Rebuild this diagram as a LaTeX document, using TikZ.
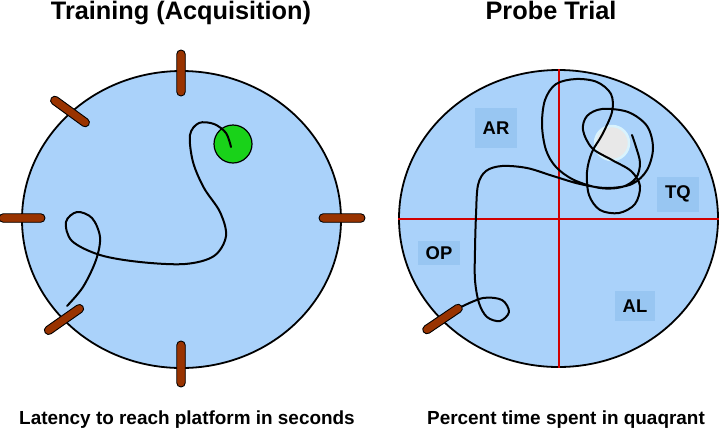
\documentclass[tikz,border=0pt]{standalone}
\usepackage{fontspec}
\setmainfont{Liberation Sans}
\usetikzlibrary{shapes.geometric}

\definecolor{poolblue}{RGB}{170,210,250}
\definecolor{tagblue}{RGB}{152,198,242}
\definecolor{pegbrown}{RGB}{153,51,0}
\definecolor{platgreen}{RGB}{25,210,25}
\definecolor{quadred}{RGB}{210,0,0}
\definecolor{ghostgray}{RGB}{232,232,232}

\begin{document}
\begin{tikzpicture}[x=1bp, y=-1bp,
    pool/.style={draw, ellipse, fill=poolblue, line width=1.8bp, inner sep=0pt, minimum width=319bp, minimum height=297bp},
    startpeg/.style={draw, line width=0.9bp, fill=pegbrown, rounded corners=4.2bp, minimum width=46bp, minimum height=8.5bp, inner sep=0pt},
    tag/.style={fill=tagblue, font=\bfseries\fontsize{18.5}{20}\selectfont, inner sep=0pt, minimum width=42bp},
    swim/.style={line width=2bp, line cap=round, line join=round},
    quad/.style={quadred, line width=2bp},
    title/.style={anchor=base, font=\bfseries\fontsize{25.4}{30}\selectfont},
    caption/.style={anchor=base, font=\bfseries\fontsize{19}{22}\selectfont},
  ]
  \useasboundingbox (0,0) rectangle (720,428);

  \node[title] (trainT) at (181,19.5) {Training (Acquisition)};
  \node[title] (probeT) at (551,19.5) {Probe Trial};

  \node[pool] (poolA) at (181.5,219.5) {};
  \node[pool] (poolB) at (558.5,218.5) {};

  \node[circle, draw, fill=platgreen, line width=1.2bp, minimum size=38bp, inner sep=0pt] (platform) at (233,144) {};
  \node[circle, fill=ghostgray, draw=cyan!15, line width=2.5bp, minimum size=34bp, inner sep=0pt] (ghost) at (612,143) {};

  \node[tag, minimum height=40bp] (AR) at (496,128) {AR};
  \node[tag, minimum height=35bp] (TQ) at (678,194) {TQ};
  \node[tag, minimum height=24bp] (OP) at (439,253) {OP};
  \node[tag, minimum height=30bp, minimum width=40bp] (AL) at (635,306) {AL};

  \draw[quad] (poolB.north) -- (poolB.south);
  \draw[quad] (poolB.west) -- (poolB.east);

  \draw[swim] plot[smooth, tension=0.55] coordinates {(67,306) (83,287) (96,260) (100,237) (92,218) (77,212) (66,222) (72,241) (100,255) (140,262) (185,264) (214,256) (226,236) (220,212) (204,188) (193,162) (190,135) (199,123) (214,124) (226,133) (231,147)};
  \draw[swim] plot[smooth, tension=0.55] coordinates {(461,307) (483,298) (502,300) (509,312) (500,321) (487,317) (479,303) (475,280) (475,250) (476,215) (478,185) (486,171) (502,166) (527,168) (553,176) (580,184) (607,188) (632,184) (647,170) (653,148) (647,126) (628,112) (602,109) (587,116) (583,130) (592,148) (612,160) (631,171) (640,186) (635,204) (619,213) (600,210) (589,195) (587,172) (592,152) (602,135) (612,112) (611,94) (597,82) (576,79) (556,84) (545,100) (542,125) (546,150) (556,167) (574,180) (600,188) (622,187) (636,178) (640,163) (636,147) (632,135)};

  \node[startpeg, rotate=90] (pegN) at (181,73) {};
  \node[startpeg, rotate=-36] (pegNW) at (70,111.5) {};
  \node[startpeg] (pegW) at (22,218) {};
  \node[startpeg] (pegE) at (342,218) {};
  \node[startpeg, rotate=90] (pegS) at (181,364) {};
  \node[startpeg, rotate=35] (pegSW) at (64,319.5) {};
  \node[startpeg, rotate=34] (pegB) at (442.5,319) {};

  \node[caption] (trainC) at (187,424) {Latency to reach platform in seconds};
  \node[caption] (probeC) at (566,424) {Percent time spent in quaqrant};
\end{tikzpicture}
\end{document}
